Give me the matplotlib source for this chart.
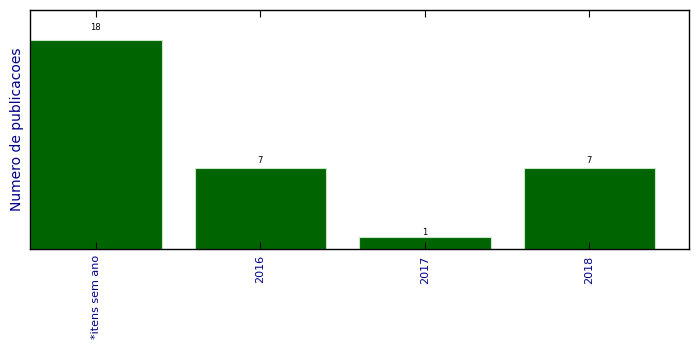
import matplotlib
matplotlib.use("Agg")
import matplotlib.pyplot as plt

categories = ["*itens sem ano", "2016", "2017", "2018"]
counts = [18, 7, 1, 7]

fig = plt.figure(figsize=(6.99, 3.49), dpi=100)
ax = fig.add_axes([30 / 699, 1 - 249 / 349, 659 / 699, 239 / 349])

x = list(range(len(categories)))
ax.bar(x, counts, width=0.8, color="#006400", edgecolor="#c8e6c8", linewidth=0.8)

for xi, c in zip(x, counts):
    ax.text(xi, c * 1.04, str(c), ha="center", va="bottom", fontsize=6, color="black")

ax.set_xlim(-0.4, 3.605)
ax.set_ylim(0, 20.6)
ax.set_xticks(x)
ax.set_xticklabels(categories, rotation=90, fontsize=8, color="darkblue")
ax.set_yticks([])
ax.tick_params(axis="x", direction="in", top=True, length=5, width=0.8, pad=4.5)
ax.set_ylabel("Numero de publicacoes", fontsize=10, color="darkblue")
for s in ax.spines.values():
    s.set_linewidth(1.0)

fig.savefig("out.png", dpi=100, facecolor="white")
